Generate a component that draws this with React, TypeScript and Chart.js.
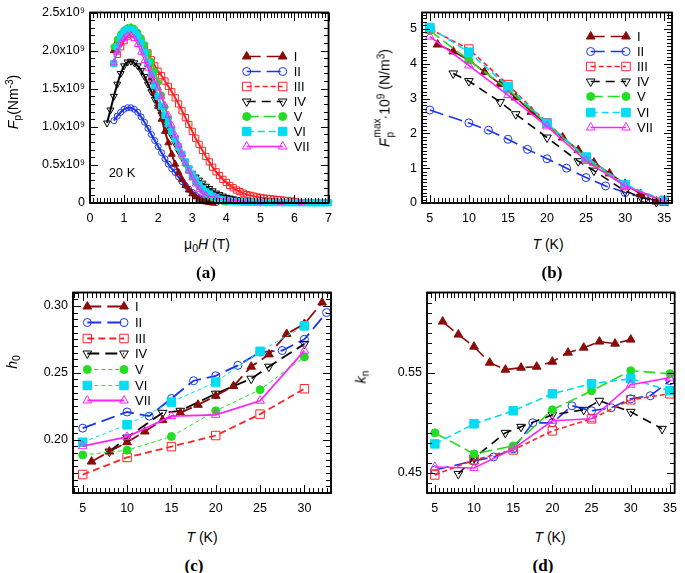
import React, { useEffect, useRef } from 'react';
import { Chart, registerables } from 'chart.js';
Chart.register(...registerables);

const N = null;
const seriesNames = ['I', 'II', 'III', 'IV', 'V', 'VI', 'VII'];

// ---------- Panel (a): Fp (1e9 N m^-3) vs mu0H (T) at 20 K ----------
const fieldA = [0.5, 0.6, 0.7, 0.8, 0.9, 1.0, 1.1, 1.2, 1.3, 1.4, 1.5, 1.6, 1.7, 1.8, 1.9, 2.0, 2.1, 2.2, 2.3, 2.4, 2.5, 2.6, 2.7, 2.8, 2.9, 3.0, 3.1, 3.2, 3.3, 3.4, 3.5, 3.6, 3.7, 3.8, 3.9, 4.0, 4.1, 4.2, 4.3, 4.4, 4.5, 4.6, 4.7, 4.8, 4.9, 5.0, 5.1, 5.2, 5.3, 5.4, 5.5, 5.6, 5.7, 5.8, 5.9, 6.0, 6.1, 6.2, 6.3, 6.4, 6.5, 6.6, 6.7, 6.8, 6.9, 7.0];
const aFp_I = [N, N, 2.0, 2.12, 2.2, 2.26, 2.29, 2.3, 2.28, 2.22, 2.12, 1.98, 1.82, 1.64, 1.45, 1.27, 1.1, 0.94, 0.79, 0.64, 0.51, 0.4, 0.31, 0.23, 0.17, 0.12, 0.08, 0.05, 0.03, 0.015, 0.006, 0.0,
  N, N, N, N, N, N, N, N, N, N, N, N, N, N, N, N, N, N, N, N, N, N, N, N, N, N, N, N, N, N, N, N, N, N];
const aFp_II = [N, N, 1.08, 1.14, 1.19, 1.23, 1.25, 1.25, 1.23, 1.19, 1.13, 1.06, 0.98, 0.9, 0.82, 0.74, 0.66, 0.58, 0.51, 0.45, 0.4, 0.34, 0.28, 0.23, 0.18, 0.14, 0.1, 0.07, 0.05, 0.03, 0.02, 0.01, 0.005,
  N, N, N, N, N, N, N, N, N, N, N, N, N, N, N, N, N, N, N, N, N, N, N, N, N, N, N, N, N, N, N, N, N];
const aFp_III = [N, N, N, 1.95, 2.05, 2.13, 2.19, 2.22, 2.22, 2.19, 2.13, 2.06, 1.97, 1.88, 1.8, 1.73, 1.67, 1.6, 1.53, 1.46, 1.38, 1.3, 1.21, 1.12, 1.03, 0.94, 0.85, 0.77, 0.69, 0.61, 0.54, 0.47, 0.41,
  0.36, 0.31, 0.27, 0.23, 0.2, 0.17, 0.15, 0.13, 0.11, 0.1, 0.09, 0.08, 0.07, 0.065, 0.06, 0.055, 0.05, 0.045, 0.04, 0.035, 0.03, 0.025, 0.02, N, N, N, N, N, N, N, N, N, N];
const aFp_IV = [1.05, 1.22, 1.4, 1.56, 1.7, 1.8, 1.85, 1.86, 1.84, 1.8, 1.74, 1.66, 1.56, 1.46, 1.36, 1.26, 1.16, 1.07, 0.98, 0.88, 0.78, 0.68, 0.6, 0.52, 0.45, 0.39, 0.34, 0.3, 0.26, 0.22,
  0.19, 0.16, 0.13, 0.11, 0.09, 0.075, 0.065, 0.055, 0.045, 0.038, 0.032, 0.026, 0.02, 0.016, 0.012, 0.01, N, N, N, N, N, N, N, N, N, N, N, N, N, N, N, N, N, N, N, N];
const aFp_V = [N, N, 2.05, 2.15, 2.22, 2.27, 2.3, 2.31, 2.29, 2.24, 2.17, 2.08, 1.97, 1.86, 1.73, 1.58, 1.42, 1.26, 1.11, 0.97, 0.84, 0.72, 0.61, 0.51, 0.42, 0.34, 0.27, 0.21, 0.16, 0.12, 0.09, 0.065,
  0.045, 0.03, 0.02, 0.01, N, N, N, N, N, N, N, N, N, N, N, N, N, N, N, N, N, N, N, N, N, N, N, N, N, N, N, N, N, N];
const aFp_VI = [N, N, 1.83, 2.05, 2.18, 2.25, 2.28, 2.28, 2.25, 2.19, 2.1, 1.98, 1.84, 1.69, 1.54, 1.4, 1.27, 1.15, 1.04, 0.94, 0.84, 0.74, 0.64, 0.54, 0.45, 0.37, 0.3, 0.24, 0.19, 0.15, 0.12, 0.09,
  0.07, 0.05, 0.04, 0.03, 0.025, 0.02, 0.018, 0.015, 0.013, 0.011, 0.01, 0.009, 0.008, 0.007, 0.006, 0.006, 0.006, 0.006, 0.006, 0.005, 0.005, 0.005, 0.005, 0.005,
  0.004, 0.004, 0.004, 0.004, 0.004, 0.003, 0.003, 0.003, 0.003, 0.003];
const aFp_VII = [N, N, 1.84, 1.98, 2.09, 2.16, 2.2, 2.2, 2.16, 2.08, 1.98, 1.87, 1.77, 1.68, 1.6, 1.51, 1.4, 1.28, 1.15, 1.02, 0.89, 0.76, 0.64, 0.52, 0.42, 0.33, 0.25, 0.18, 0.13, 0.1,
  N, N, 0.07, N, N, 0.045, N, N, 0.03, N, N, 0.02, N, N, N, 0.015, N, N, N, N, N, 0.01, N, N, N, N, N, 0.008, N, N, N, N, N, N, N, N];
const aXTicks = [0, 1, 2, 3, 4, 5, 6, 7];
const aYTicks = [0, 0.5, 1.0, 1.5, 2.0, 2.5];

// ---------- Panel (b): Fp max (1e9 N/m^3) vs T (K) ----------
const bT_I = [6, 8, 10, 12, 14, 16, 18, 20, 22, 24, 26, 28, 30, 32, 34];
const bF_I = [4.55, 4.35, 4.1, 3.76, 3.42, 3.03, 2.62, 2.25, 1.88, 1.52, 1.16, 0.85, 0.55, 0.25, 0.04];
const bT_II = [5, 10, 12.5, 15, 17.5, 20, 22.5, 25, 27.5, 30, 32.5, 35];
const bF_II = [2.67, 2.3, 2.09, 1.83, 1.54, 1.27, 1.0, 0.73, 0.49, 0.3, 0.14, 0.07];
const bT_III = [5, 10, 15, 20, 25, 30, 35];
const bF_III = [5.0, 4.42, 3.4, 2.3, 1.3, 0.5, 0.05];
const bT_IV = [8, 10, 14, 16, 20, 24, 26, 30, 32, 34];
const bF_IV = [3.72, 3.5, 2.9, 2.55, 1.88, 1.2, 0.93, 0.34, 0.18, 0.03];
const bT_V = [5, 10, 15, 20, 25, 30, 35];
const bF_V = [4.95, 4.1, 3.27, 2.28, 1.28, 0.5, 0.05];
const bT_VI = [5, 10, 15, 20, 25, 30, 35];
const bF_VI = [5.04, 4.33, 3.35, 2.29, 1.32, 0.53, 0.08];
const bT_VII = [5, 10, 15, 20, 25, 30, 35];
const bF_VII = [4.78, 3.95, 3.1, 2.2, 1.21, 0.49, 0.05];
const bXTicks = [5, 10, 15, 20, 25, 30, 35];
const bYTicks = [0, 1, 2, 3, 4, 5];

// ---------- Panel (c): h0 vs T (K) ----------
const cT_I = [6, 8, 10, 12, 14, 16, 18, 20, 22, 24, 26, 28, 30, 32];
const cH_I = [0.1835, 0.191, 0.198, 0.206, 0.2145, 0.22, 0.226, 0.2327, 0.24, 0.2545, 0.2637, 0.279, 0.2865, 0.3025];
const cT_II = [5, 10, 12.5, 15, 17.5, 20, 22.5, 25, 27.5, 30, 32.5];
const cH_II = [0.2085, 0.2206, 0.2175, 0.2307, 0.244, 0.2477, 0.2555, 0.2654, 0.2666, 0.275, 0.295];
const cT_III = [5, 10, 15, 20, 25, 30];
const cH_III = [0.1738, 0.1866, 0.1947, 0.203, 0.219, 0.238];
const cT_IV = [8, 10, 14, 16, 20, 24, 26, 30];
const cH_IV = [0.191, 0.2015, 0.22, 0.2215, 0.2343, 0.2455, 0.2545, 0.2715];
const cT_V = [5, 10, 15, 20, 25, 30];
const cH_V = [0.1885, 0.192, 0.2023, 0.2215, 0.2373, 0.2618];
const cT_VI = [5, 10, 15, 20, 25, 30];
const cH_VI = [0.198, 0.211, 0.228, 0.243, 0.266, 0.285];
const cT_VII = [5, 10, 15, 20, 25, 30];
const cH_VII = [0.195, 0.202, 0.2175, 0.2185, 0.229, 0.2665];
const cXTicks = [5, 10, 15, 20, 25, 30];
const cYTicks = [0.2, 0.25, 0.3];

// ---------- Panel (d): kn vs T (K) ----------
const dT_I = [6, 8, 10, 12, 14, 16, 18, 20, 22, 24, 26, 28, 30];
const dK_I = [0.601, 0.588, 0.576, 0.56, 0.553, 0.555, 0.556, 0.561, 0.57, 0.575, 0.581, 0.579, 0.583];
const dT_II = [5, 10, 12.5, 15, 17.5, 20, 22.5, 25, 27.5, 30, 32.5, 35];
const dK_II = [0.453, 0.462, 0.466, 0.474, 0.5, 0.5, 0.517, 0.512, 0.515, 0.524, 0.527, 0.542];
const dT_III = [5, 10, 15, 20, 25, 30, 35];
const dK_III = [0.448, 0.463, 0.473, 0.492, 0.504, 0.523, 0.529];
const dT_IV = [8, 10, 14, 16, 20, 24, 26, 30, 34];
const dK_IV = [0.449, 0.465, 0.49, 0.496, 0.508, 0.513, 0.522, 0.511, 0.494];
const dT_V = [5, 10, 15, 20, 25, 30, 35];
const dK_V = [0.49, 0.469, 0.477, 0.513, 0.532, 0.552, 0.549];
const dT_VI = [5, 10, 15, 20, 25, 30, 35];
const dK_VI = [0.479, 0.499, 0.512, 0.529, 0.539, 0.544, 0.532];
const dT_VII = [5, 10, 15, 20, 25, 30, 35];
const dK_VII = [0.456, 0.455, 0.474, 0.502, 0.504, 0.538, 0.545];
const dXTicks = [5, 10, 15, 20, 25, 30, 35];
const dYTicks = [0.45, 0.55];

// ---------- styles ----------
type PS = 'circle' | 'rect' | 'triangle';
type Sty = { color: string; point: PS; rot: number; filled: boolean };
const STYLES: Sty[] = [
  { color: '#8B0A0A', point: 'triangle', rot: 0, filled: true },
  { color: '#1a35f0', point: 'circle', rot: 0, filled: false },
  { color: '#ff2424', point: 'rect', rot: 0, filled: false },
  { color: '#000000', point: 'triangle', rot: 180, filled: false },
  { color: '#22dd22', point: 'circle', rot: 0, filled: true },
  { color: '#00dcf4', point: 'rect', rot: 0, filled: true },
  { color: '#ff22ff', point: 'triangle', rot: 0, filled: false },
];
const DASH_STD = [[14, 6], [14, 6], [5, 3], [9, 6], [12, 5], [7, 4], []];
const DASH_C = [[14, 6], [14, 6], [7, 4], [12, 6], [4, 3], [4, 3], []];
const DASH_NONE = [[], [], [], [], [], [], []];
type Sizes = { circle: number; rect: number; triangle: number };
const SIZE_SMALL: Sizes = { circle: 3, rect: 4.4, triangle: 4 };
const SIZE_STD: Sizes = { circle: 4, rect: 6, triangle: 5 };
const FONT = 'Liberation Sans, Arial, sans-serif';

function markerPath(ctx: CanvasRenderingContext2D, st: PS, rot: number, x: number, y: number, r: number) {
  ctx.beginPath();
  if (st === 'circle') ctx.arc(x, y, r, 0, Math.PI * 2);
  else if (st === 'rect') { const s = r * Math.SQRT1_2; ctx.rect(x - s, y - s, 2 * s, 2 * s); }
  else {
    let rad = (rot * Math.PI) / 180;
    ctx.moveTo(x + Math.sin(rad) * r, y - Math.cos(rad) * r);
    rad += (2 * Math.PI) / 3;
    ctx.lineTo(x + Math.sin(rad) * r, y - Math.cos(rad) * r);
    rad += (2 * Math.PI) / 3;
    ctx.lineTo(x + Math.sin(rad) * r, y - Math.cos(rad) * r);
    ctx.closePath();
  }
}

function buildSets(xs: number[][], ys: (number | null)[][], sizes: Sizes, lw: number[], dashes: number[][], order: number[]) {
  return ys.map((yv, i) => {
    const s = STYLES[i];
    const fill = s.filled ? s.color : 'rgba(0,0,0,0)';
    return {
      label: seriesNames[i],
      data: xs[i].map((x, j) => ({ x, y: yv[j] })),
      showLine: true,
      borderColor: s.color,
      backgroundColor: fill,
      pointBackgroundColor: fill,
      pointBorderColor: s.color,
      pointStyle: s.point,
      pointRotation: s.rot,
      pointRadius: sizes[s.point],
      pointBorderWidth: 1,
      borderWidth: lw[i],
      borderDash: dashes[i],
      spanGaps: true,
      clip: false,
      order: order[i],
      tension: 0,
      fill: false,
    };
  });
}

type Legend = { x: number; y: number; dy: number; len: number; gap: number; sizes: Sizes; lw: number[]; dashes: number[][] };
type Cfg = {
  left: number; top: number; width: number; height: number; padTop: number; padRight: number; yW: number; xH: number;
  xMin: number; xMax: number; yMin: number; yMax: number; xTicks: number[]; yTicks: number[]; xMinor: number; yMinor: number;
  yFmt: (v: number) => string; datasets: any[]; legend?: Legend;
};

function tickValues(min: number, max: number, step: number): number[] {
  const out: number[] = [];
  const s0 = Math.ceil(min / step - 1e-6);
  const s1 = Math.floor(max / step + 1e-6);
  for (let k = s0; k <= s1; k++) out.push(k * step);
  return out;
}

function drawTicks(c: any, cfg: Cfg) {
  const ctx: CanvasRenderingContext2D = c.ctx;
  const ca = c.chartArea;
  const scx = c.scales.x;
  const scy = c.scales.y;
  const T0 = Math.round(ca.top), B0 = Math.round(ca.bottom), L0 = Math.round(ca.left), R0 = Math.round(ca.right);
  ctx.save();
  ctx.setLineDash([]);
  ctx.globalAlpha = 1;
  ctx.globalCompositeOperation = 'source-over';
  ctx.fillStyle = '#000';
  for (const v of tickValues(cfg.xMin, cfg.xMax, cfg.xMinor)) {
    const major = cfg.xTicks.some((m) => Math.abs(m - v) < 1e-6);
    const len = major ? 8 : 5;
    const px = Math.round(scx.getPixelForValue(v));
    ctx.fillRect(px, B0 - len, 1, len);
    ctx.fillRect(px, T0, 1, len);
  }
  for (const v of tickValues(cfg.yMin, cfg.yMax, cfg.yMinor)) {
    const major = cfg.yTicks.some((m) => Math.abs(m - v) < 1e-6);
    const len = major ? 8 : 5;
    const py = Math.round(scy.getPixelForValue(v));
    ctx.fillRect(L0, py, len, 1);
    ctx.fillRect(R0 - len, py, len, 1);
  }
  ctx.strokeStyle = '#000';
  ctx.lineWidth = 1.5;
  ctx.strokeRect(ca.left, ca.top, ca.right - ca.left, ca.bottom - ca.top);
  ctx.restore();
}

function drawLegend(c: any, cfg: Cfg) {
  const L = cfg.legend;
  if (!L) return;
  const ctx: CanvasRenderingContext2D = c.ctx;
  const ca = c.chartArea;
  ctx.save();
  for (let i = 0; i < seriesNames.length; i++) {
    const s = STYLES[i];
    const yy = Math.round(ca.top + L.y + i * L.dy) + 0.5;
    const x1 = ca.left + L.x;
    const x2 = x1 + L.len;
    ctx.strokeStyle = s.color;
    ctx.lineWidth = L.lw[i];
    ctx.setLineDash(L.dashes[i]);
    ctx.beginPath();
    ctx.moveTo(x1, yy);
    ctx.lineTo(x2, yy);
    ctx.stroke();
    ctx.setLineDash([]);
    ctx.lineWidth = 1;
    for (const x of [x1, x2]) {
      markerPath(ctx, s.point, s.rot, x, yy, L.sizes[s.point]);
      if (s.filled) { ctx.fillStyle = s.color; ctx.fill(); }
      ctx.stroke();
    }
    ctx.fillStyle = '#000';
    ctx.font = `13px ${FONT}`;
    ctx.textBaseline = 'middle';
    ctx.textAlign = 'left';
    ctx.fillText(seriesNames[i], x2 + L.gap, yy + 0.5);
  }
  ctx.restore();
}

function PanelChart({ cfg }: { cfg: Cfg }) {
  const ref = useRef<HTMLCanvasElement>(null);
  useEffect(() => {
    const tickFont = { family: FONT, size: 12.5 };
    const chart = new Chart(ref.current as HTMLCanvasElement, {
      type: 'line',
      data: { datasets: cfg.datasets.map((d) => ({ ...d, data: d.data.map((p: any) => ({ ...p })) })) },
      options: {
        animation: false,
        responsive: false,
        maintainAspectRatio: false,
        layout: { padding: { top: cfg.padTop, right: cfg.padRight, left: 0, bottom: 0 } },
        plugins: { legend: { display: false }, tooltip: { enabled: false } },
        scales: {
          x: {
            type: 'linear', min: cfg.xMin, max: cfg.xMax,
            grid: { display: false, drawTicks: false },
            border: { display: false },
            ticks: { padding: 8, color: '#000', font: tickFont, maxRotation: 0, autoSkip: false, callback: (v: any) => String(v) },
            afterBuildTicks: (s: any) => { s.ticks = cfg.xTicks.map((v) => ({ value: v })); },
            afterFit: (s: any) => { s.height = cfg.xH; },
          },
          y: {
            type: 'linear', min: cfg.yMin, max: cfg.yMax,
            grid: { display: false, drawTicks: false },
            border: { display: false },
            ticks: { padding: 5, color: '#000', font: tickFont, autoSkip: false, callback: (v: any) => cfg.yFmt(Number(v)) },
            afterBuildTicks: (s: any) => { s.ticks = cfg.yTicks.map((v) => ({ value: v })); },
            afterFit: (s: any) => { s.width = cfg.yW; },
          },
        },
      } as any,
      plugins: [
        { id: 'frameTicksA', afterDatasetsDraw: (c: any) => drawTicks(c, cfg) } as any,
        { id: 'innerLegend', afterDraw: (c: any) => drawLegend(c, cfg) } as any,
        { id: 'frameTicksB', afterDraw: (c: any) => drawTicks(c, cfg) } as any,
      ],
    });
    return () => chart.destroy();
  }, []);
  return (
    <canvas ref={ref} width={cfg.width} height={cfg.height}
      style={{ position: 'absolute', left: cfg.left, top: cfg.top }} />
  );
}

const ORDER = [4, 6, 3, 5, 2, 1, 0];
const LW_STD = [1.6, 1.6, 1.6, 1.6, 1.6, 1.6, 1.6];
const LW_C = [1.8, 1.8, 1.8, 1.8, 1, 1, 1.8];

const cfgA: Cfg = {
  left: 0, top: 0, width: 340, height: 232, padTop: 10, padRight: 11, yW: 90, xH: 29,
  xMin: 0, xMax: 7, yMin: 0, yMax: 2.5, xTicks: aXTicks, yTicks: aYTicks, xMinor: 0.1, yMinor: 0.1,
  yFmt: (v) => (v === 0 ? '0' : v.toFixed(1) + 'x10\u2079'),
  datasets: buildSets([fieldA, fieldA, fieldA, fieldA, fieldA, fieldA, fieldA], [aFp_I, aFp_II, aFp_III, aFp_IV, aFp_V, aFp_VI, aFp_VII], SIZE_SMALL, [2, 2, 2, 2, 2, 2, 1.3], DASH_NONE, ORDER),
  legend: { x: 156.7, y: 43.3, dy: 15, len: 36, gap: 11, sizes: SIZE_STD, lw: LW_STD, dashes: DASH_STD },
};
const cfgB: Cfg = {
  left: 340, top: 0, width: 345, height: 232, padTop: 1, padRight: 13, yW: 82, xH: 29,
  xMin: 4, xMax: 36, yMin: 0, yMax: 5.47, xTicks: bXTicks, yTicks: bYTicks, xMinor: 0.5, yMinor: 0.1,
  yFmt: (v) => String(v),
  datasets: buildSets([bT_I, bT_II, bT_III, bT_IV, bT_V, bT_VI, bT_VII], [bF_I, bF_II, bF_III, bF_IV, bF_V, bF_VI, bF_VII], SIZE_STD, LW_STD, DASH_STD, ORDER),
  legend: { x: 168.7, y: 23, dy: 15.2, len: 35.3, gap: 11, sizes: SIZE_STD, lw: LW_STD, dashes: DASH_STD },
};
const cfgC: Cfg = {
  left: 0, top: 280, width: 340, height: 240, padTop: 7, padRight: 9, yW: 73, xH: 27,
  xMin: 3.9, xMax: 33, yMin: 0.16, yMax: 0.31, xTicks: cXTicks, yTicks: cYTicks, xMinor: 0.5, yMinor: 0.005,
  yFmt: (v) => v.toFixed(2),
  datasets: buildSets([cT_I, cT_II, cT_III, cT_IV, cT_V, cT_VI, cT_VII], [cH_I, cH_II, cH_III, cH_IV, cH_V, cH_VI, cH_VII], SIZE_STD, LW_C, DASH_C, ORDER),
  legend: { x: 14.3, y: 13.7, dy: 15.7, len: 36.7, gap: 11, sizes: SIZE_STD, lw: LW_C, dashes: DASH_C },
};
const cfgD: Cfg = {
  left: 340, top: 280, width: 345, height: 240, padTop: 7, padRight: 2, yW: 87, xH: 27,
  xMin: 4, xMax: 35.6, yMin: 0.43, yMax: 0.63, xTicks: dXTicks, yTicks: dYTicks, xMinor: 0.5, yMinor: 0.01,
  yFmt: (v) => v.toFixed(2),
  datasets: buildSets([dT_I, dT_II, dT_III, dT_IV, dT_V, dT_VI, dT_VII], [dK_I, dK_II, dK_III, dK_IV, dK_V, dK_VI, dK_VII], SIZE_STD, LW_STD, DASH_STD, ORDER),
};

function Txt({ x, y, rot, size, serif, bold, children }: any) {
  return (
    <div style={{
      position: 'absolute', left: x, top: y, transform: `translate(-50%, -50%)${rot ? ' rotate(-90deg)' : ''}`,
      whiteSpace: 'nowrap', fontFamily: serif ? 'Liberation Serif, Times New Roman, serif' : FONT,
      fontSize: size || 13, fontWeight: bold ? 'bold' : 'normal', color: '#000', lineHeight: 1,
    }}>{children}</div>
  );
}

const sub = { fontSize: '75%', verticalAlign: '-0.3em' } as const;
const sup = { fontSize: '72%', verticalAlign: '0.5em' } as const;

export default function App() {
  return (
    <div style={{ position: 'absolute', left: 0, top: 0, width: 685, height: 573 }}>
      <PanelChart cfg={cfgA} />
      <PanelChart cfg={cfgB} />
      <PanelChart cfg={cfgC} />
      <PanelChart cfg={cfgD} />
      <Txt x={14} y={102} rot size={14}><i>F</i><span style={sub}>p</span>(Nm<span style={sup}>-3</span>)</Txt>
      <Txt x={207} y={245} size={14}>μ<span style={sub}>0</span><i>H</i> (T)</Txt>
      <Txt x={122} y={172}>20 K</Txt>
      <Txt x={206} y={272} size={17} serif bold>(a)</Txt>
      <Txt x={384} y={98} rot size={14}>
        <i>F</i>
        <span style={{ position: 'relative', display: 'inline-block', width: 19, height: 10 }}>
          <span style={{ position: 'absolute', left: 1, top: -7, fontSize: 10, lineHeight: '10px' }}>max</span>
          <span style={{ position: 'absolute', left: 1, top: 6, fontSize: 10, lineHeight: '10px' }}>p</span>
        </span>
        ·10<span style={sup}>9</span> (N/m<span style={sup}>3</span>)
      </Txt>
      <Txt x={548} y={244} size={14}><i>T</i> (K)</Txt>
      <Txt x={552} y={272} size={17} serif bold>(b)</Txt>
      <Txt x={13} y={362} rot size={14}><i>h</i><span style={sub}>0</span></Txt>
      <Txt x={202} y={537} size={14}><i>T</i> (K)</Txt>
      <Txt x={194} y={565} size={17} serif bold>(c)</Txt>
      <Txt x={362} y={377} rot size={14}><i>k</i><span style={sub}>n</span></Txt>
      <Txt x={550} y={537} size={14}><i>T</i> (K)</Txt>
      <Txt x={543} y={565} size={17} serif bold>(d)</Txt>
    </div>
  );
}
